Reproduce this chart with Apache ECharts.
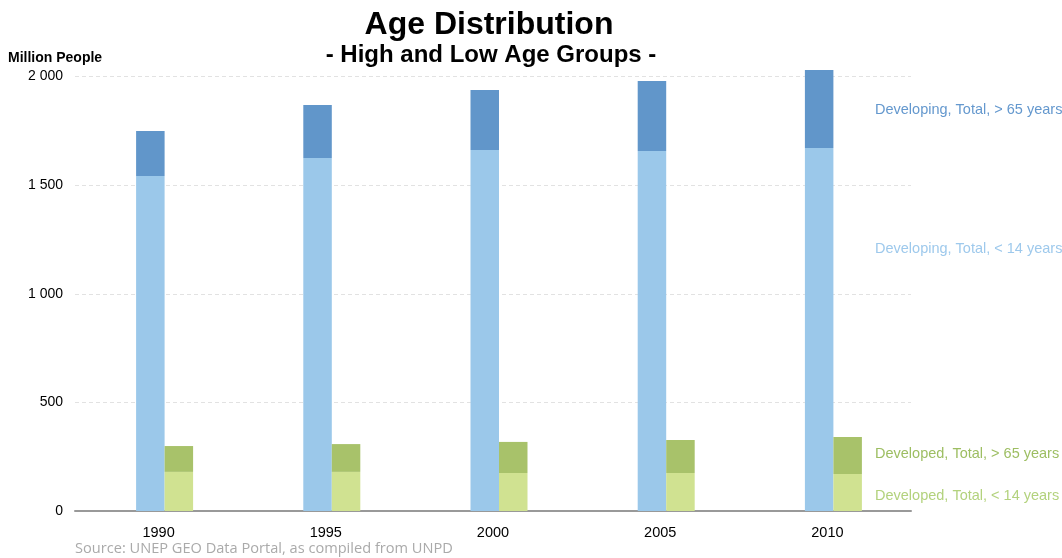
<!DOCTYPE html>
<html>
<head>
<meta charset="utf-8">
<script src="https://cdn.jsdelivr.net/npm/echarts@6/dist/echarts.min.js"></script>
<style>html,body{margin:0;padding:0;background:#fff}#c{width:1062px;height:558px}</style>
</head>
<body>
<div id="c"></div>
<script>
const years = ['1990', '1995', '2000', '2005', '2010'];
const developingUnder14 = [1542, 1625, 1662, 1657, 1671];
const developingOver65 = [207, 244, 276, 322, 359];
const developedUnder14 = [180, 180, 175, 175, 170];
const developedOver65 = [119, 128, 143, 152, 171];
const yTicks = [0, 500, 1000, 1500, 2000];

const chart = echarts.init(document.getElementById('c'), null, {renderer: 'canvas'});
const fmt = v => String(v).replace(/\B(?=(\d{3})+(?!\d))/g, ' ');
const bw = 28.5;
const FONT = 'Liberation Sans, Arial';
chart.setOption({
  animation: false,
  title: [
    {text: 'Age Distribution', left: 484, top: 4, textAlign: 'center',
     textStyle: {fontFamily: FONT, fontWeight: 'bold', fontSize: 32, color: '#000'}},
    {text: '- High and Low Age Groups -', left: 486, top: 38, textAlign: 'center',
     textStyle: {fontFamily: FONT, fontWeight: 'bold', fontSize: 24, color: '#000'}}
  ],
  grid: {left: 75, right: 151, top: 76.5, bottom: 47, containLabel: false},
  xAxis: {
    type: 'category', data: years,
    axisLine: {show: true, lineStyle: {color: '#999', width: 2}},
    axisTick: {show: false},
    axisLabel: {color: '#000', fontSize: 14.5, fontFamily: FONT, margin: 14}
  },
  yAxis: {
    type: 'value', min: yTicks[0], max: yTicks[yTicks.length - 1], interval: 500,
    name: 'Million People', nameLocation: 'end', nameGap: 11,
    nameTextStyle: {align: 'left', padding: [0, 0, 0, -67], fontWeight: 'bold', fontSize: 14, color: '#000', fontFamily: FONT},
    axisLine: {show: false}, axisTick: {show: false},
    axisLabel: {formatter: fmt, color: '#000', fontSize: 14, fontFamily: FONT, margin: 12},
    splitLine: {lineStyle: {color: '#e2e2e2', type: [4, 3], width: 1}}
  },
  series: [
    {name: 'spacer', type: 'bar', stack: 'pad', data: [], barWidth: 12, barGap: '0%', silent: true},
    {name: 'Developing, Total, < 14 years', type: 'bar', stack: 'dev', data: developingUnder14, barWidth: bw, barGap: '0%', clip: false, itemStyle: {color: '#9BC8EA'}},
    {name: 'Developing, Total, > 65 years', type: 'bar', stack: 'dev', data: developingOver65, barWidth: bw, barGap: '0%', clip: false, itemStyle: {color: '#6196CA'}},
    {name: 'Developed, Total, < 14 years', type: 'bar', stack: 'ded', data: developedUnder14, barWidth: bw, barGap: '0%', clip: false, itemStyle: {color: '#D0E291'}},
    {name: 'Developed, Total, > 65 years', type: 'bar', stack: 'ded', data: developedOver65, barWidth: bw, barGap: '0%', clip: false, itemStyle: {color: '#A8C26A'}}
  ],
  graphic: [
    {type: 'text', left: 875, top: 102, style: {text: 'Developing, Total, > 65 years', fill: '#6498CE', font: '14.5px Liberation Sans, Arial'}},
    {type: 'text', left: 875, top: 241, style: {text: 'Developing, Total, < 14 years', fill: '#9EC9EC', font: '14.5px Liberation Sans, Arial'}},
    {type: 'text', left: 875, top: 446, style: {text: 'Developed, Total, > 65 years', fill: '#9DBE62', font: '14.5px Liberation Sans, Arial'}},
    {type: 'text', left: 875, top: 488, style: {text: 'Developed, Total, < 14 years', fill: '#B3D27D', font: '14.5px Liberation Sans, Arial'}},
    {type: 'text', left: 75, top: 541, style: {text: 'Source: UNEP GEO Data Portal, as compiled from UNPD', fill: '#aaaaaa', font: '14.6px Open Sans, Lato, sans-serif'}}
  ]
});
</script>
</body>
</html>
